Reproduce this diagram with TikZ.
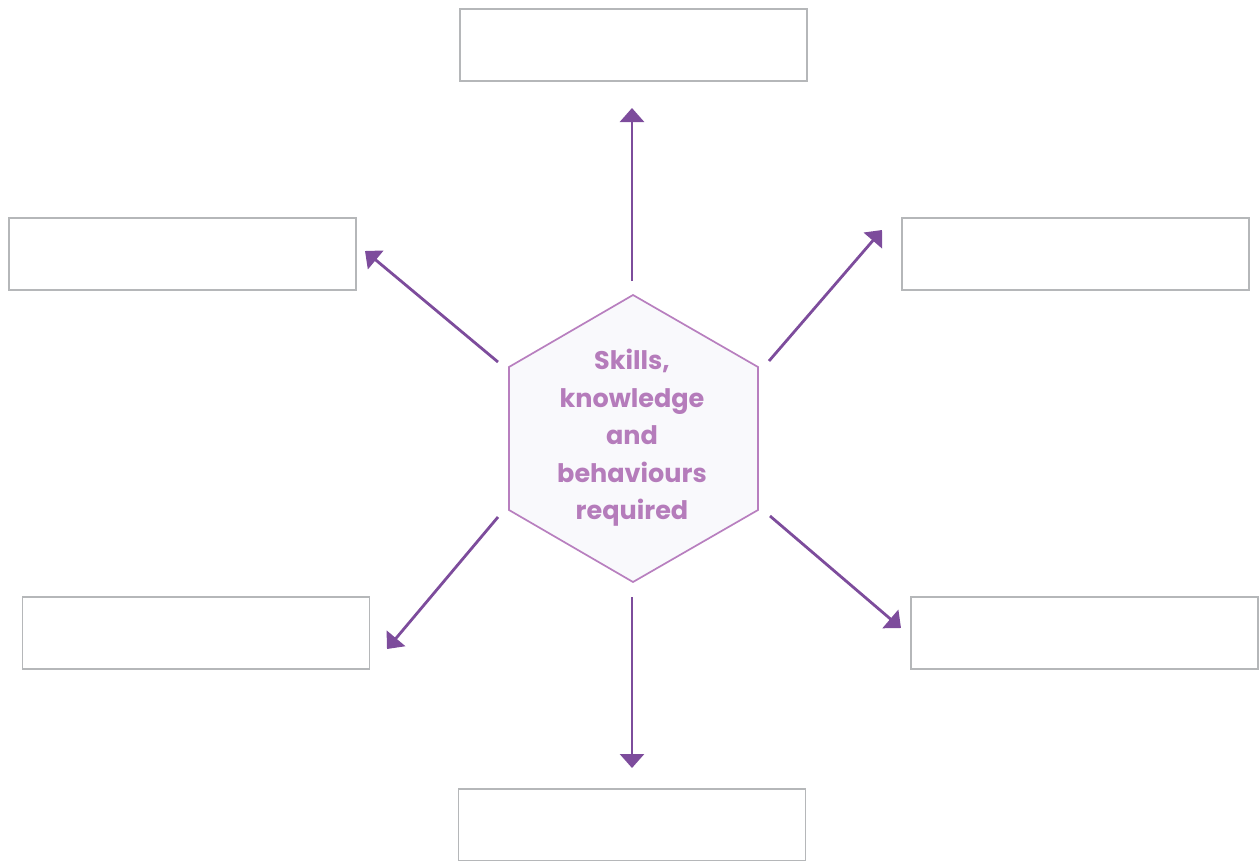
\documentclass[tikz,border=0pt]{standalone}
\usepackage{fontspec}
\setmainfont{Poppins}
\usetikzlibrary{arrows.meta}
\definecolor{hexline}{HTML}{B87FBF}
\definecolor{hexfill}{HTML}{F9F9FC}
\definecolor{hextext}{HTML}{B57CBB}
\definecolor{arrowcol}{HTML}{7D4C9C}
\definecolor{boxline}{HTML}{B5B7B9}
\begin{document}
\begin{tikzpicture}[x=1pt,y=-1pt,
  answerbox/.style={draw=boxline,line width=1.3pt,fill=white,minimum width=347pt,minimum height=72pt,inner sep=0pt},
  spoke/.style={draw=arrowcol,line width=2.8pt,-{Triangle[width=24pt,length=14pt]}}]
  \useasboundingbox (0,0) rectangle (1259,860);

  % central hexagon
  \draw[hexline,fill=hexfill,line width=1.7pt]
    (633,295) -- (758,367) -- (758,510) -- (633,582) -- (509,510) -- (509,367) -- cycle;
  \node[align=center,text=hextext,font=\bfseries\fontsize{25.5}{37.5}\selectfont] (hub) at (632,438)
    {Skills,\\knowledge\\and\\behaviours\\required};

  % surrounding boxes
  \node[answerbox] (top) at (633.5,45) {};
  \node[answerbox] (ul) at (182.5,254) {};
  \node[answerbox] (ur) at (1075.5,254) {};
  \node[answerbox] (ll) at (196,633) {};
  \node[answerbox] (lr) at (1084.5,633) {};
  \node[answerbox] (bot) at (632,825) {};

  % spoke end points
  \coordinate (s1) at (632,281); \coordinate (e1) at (632,108);
  \coordinate (s2) at (498,362); \coordinate (e2) at (365,251);
  \coordinate (s3) at (769,361); \coordinate (e3) at (882,230);
  \coordinate (s4) at (498,517); \coordinate (e4) at (387,649);
  \coordinate (s5) at (770,516); \coordinate (e5) at (901,628);
  \coordinate (s6) at (632,597); \coordinate (e6) at (632,768);

  \foreach \i in {1,...,6} { \draw[spoke] (s\i) -- (e\i); }
\end{tikzpicture}
\end{document}
